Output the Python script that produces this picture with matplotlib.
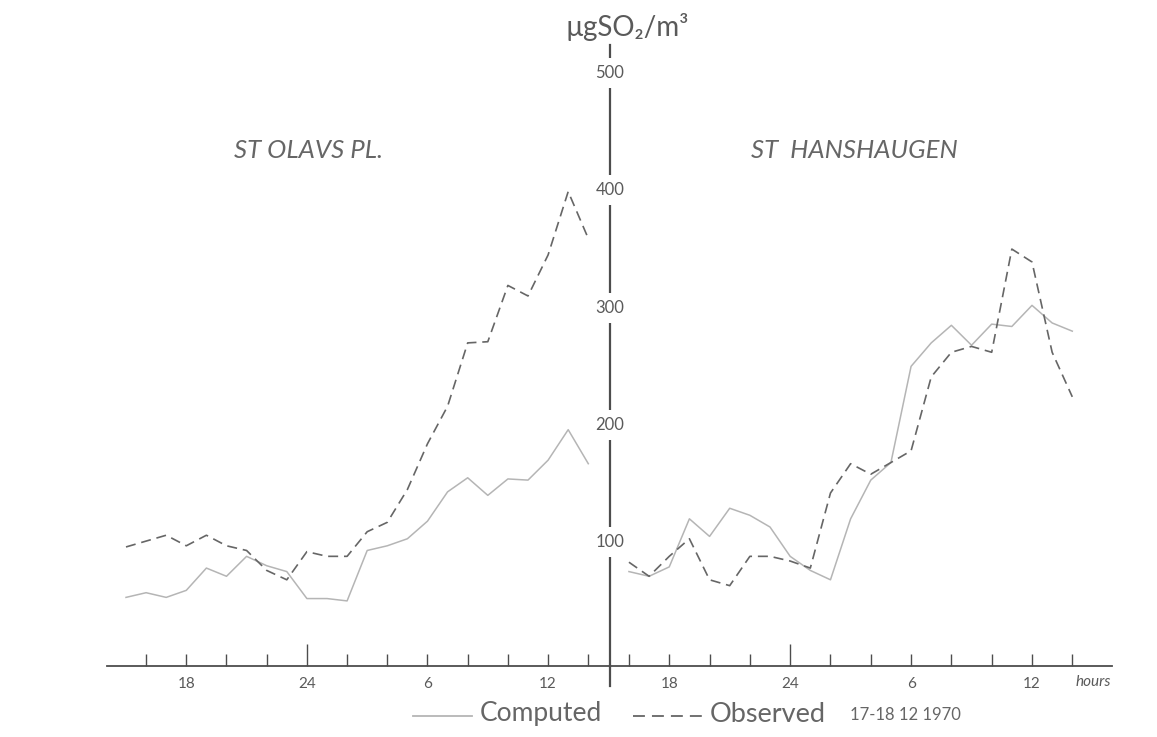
import matplotlib
matplotlib.use('Agg')
import matplotlib.pyplot as plt
from matplotlib.lines import Line2D
import matplotlib.transforms as mtransforms

# ---------------- data ----------------
hours_left = list(range(15, 39))          # 15h on 17.12 .. 14h on 18.12 (24 = midnight)
olavs_observed = [96, 101, 106, 97, 106, 97, 93, 76, 68, 92, 88, 88,
                  109, 117, 145, 184, 216, 270, 271, 319, 310, 345, 399, 359]
olavs_computed = [53, 57, 53, 59, 78, 71, 88, 80, 75, 52, 52, 50,
                  93, 97, 103, 118, 143, 155, 140, 154, 153, 170, 196, 167]

hours_right = list(range(16, 39))
hans_observed = [83, 71, 88, 103, 68, 63, 88, 88, 84, 78, 142, 167,
                 158, 168, 178, 241, 262, 267, 262, 350, 339, 262, 224]
hans_computed = [75, 71, 79, 120, 105, 129, 123, 113, 88, 76, 68, 120,
                 153, 168, 250, 270, 285, 268, 286, 284, 302, 287, 280]

tick_hours = list(range(16, 39, 2))
tick_label_map = {18: '18', 24: '24', 30: '6', 36: '12'}
y_ticks = [100, 200, 300, 400, 500]

# ---------------- style ----------------
FONT = ['Lato', 'DejaVu Sans']
plt.rcParams['font.family'] = FONT
AXC = '#4d4d4d'
TXT = '#5a5a5a'
TXT2 = '#666666'
OBS = '#666666'
COMP = '#b5b5b5'

W, H = 1157, 737
fig = plt.figure(figsize=(W / 100, H / 100), dpi=100)
fig.patch.set_facecolor('white')


def px_rect(x0, x1, y_top, y_bot):
    return [x0 / W, 1 - y_bot / H, (x1 - x0) / W, (y_bot - y_top) / H]


axL = fig.add_axes(px_rect(107, 610, 45, 666))
axR = fig.add_axes(px_rect(610, 1112, 45, 666))

YLIM = (-5.5, 524)
axL.set_xlim(14.055, 39.08)
axR.set_xlim(15.06, 39.97)

for ax in (axL, axR):
    ax.set_ylim(*YLIM)
    ax.set_facecolor('none')
    for s in ('top', 'left', 'right'):
        ax.spines[s].set_visible(False)
    ax.spines['bottom'].set_color(AXC)
    ax.spines['bottom'].set_linewidth(1.3)
    ax.set_yticks([])
    ax.set_xticks(tick_hours)
    ax.set_xticklabels([tick_label_map.get(h, '') for h in tick_hours])
    ax.tick_params(axis='x', direction='in', length=9, width=1.0, colors=AXC,
                   labelcolor=TXT, labelsize=11, pad=8)
    for h, tk in zip(tick_hours, ax.xaxis.get_major_ticks()):
        if h == 24:
            tk.tick1line.set_markersize(16)

axL.spines['right'].set_visible(True)
axL.spines['right'].set_color(AXC)
axL.spines['right'].set_linewidth(1.6)

# central y-axis labels sitting on the axis line
trans = mtransforms.blended_transform_factory(axL.transAxes, axL.transData)
for v in y_ticks:
    axL.text(1.0, v, str(v), transform=trans, ha='center', va='center',
             fontsize=12, color=TXT, zorder=6, clip_on=False,
             bbox=dict(facecolor='white', edgecolor='none', pad=5))

# central axis extension below the time axis
fig.add_artist(Line2D([610 / W, 610 / W], [1 - 666 / H, 1 - 686 / H],
                      color=AXC, lw=1.6))

# ---------------- series ----------------
axL.plot(hours_left, olavs_computed, color=COMP, lw=1.1, zorder=3)
axL.plot(hours_left, olavs_observed, color=OBS, lw=1.2, dashes=(6, 3.5), zorder=4)
axR.plot(hours_right, hans_computed, color=COMP, lw=1.1, zorder=3)
axR.plot(hours_right, hans_observed, color=OBS, lw=1.2, dashes=(6, 3.5), zorder=4)

# ---------------- texts ----------------
fig.text(627 / W, 1 - 27 / H, 'µgSO₂/m³', ha='center', va='center',
         fontsize=20, color=TXT)
fig.text(308 / W, 1 - 150 / H, 'ST OLAVS PL.', ha='center', va='center',
         fontsize=18.5, style='italic', color=TXT2)
fig.text(854 / W, 1 - 150 / H, 'ST  HANSHAUGEN', ha='center', va='center',
         fontsize=18.5, style='italic', color=TXT2)
fig.text(1093 / W, 1 - 682 / H, 'hours', ha='center', va='center',
         fontsize=11, style='italic', color=TXT)

# legend
ly = 1 - 716 / H
fig.add_artist(Line2D([413 / W, 472 / W], [ly, ly], color=COMP, lw=1.3))
fig.text(480 / W, 1 - 714 / H, 'Computed', ha='left', va='center',
         fontsize=19, color=TXT2)
fig.add_artist(Line2D([633 / W, 702 / W], [ly, ly], color=OBS, lw=1.3,
                      dashes=(6.6, 3.9)))
fig.text(710 / W, 1 - 714 / H, 'Observed', ha='left', va='center',
         fontsize=19.5, color=TXT2)
fig.text(850 / W, 1 - 715 / H, '17-18 12 1970', ha='left', va='center',
         fontsize=12, color=TXT2)

fig.savefig('out.png', dpi=100, facecolor='white')
